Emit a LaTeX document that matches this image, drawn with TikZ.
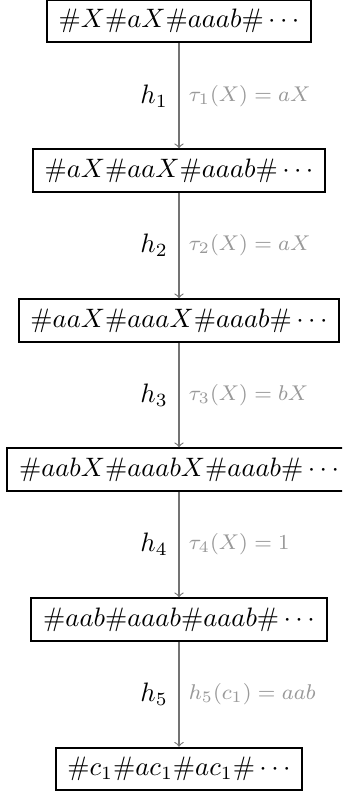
\documentclass[tikz,border=0pt]{standalone}
\begin{document}
\begin{tikzpicture}[x=0.375pt,y=-0.375pt,
  wordbox/.style={draw=black,line width=0.75pt,fill=white,inner xsep=4.4pt,inner ysep=3.5pt},
  stepline/.style={draw=black!55,line width=0.4pt,->},
  hlab/.style={left,inner sep=4pt,font=\normalsize},
  tlab/.style={right,inner sep=3.5pt,text=black!40,font=\footnotesize}]
\useasboundingbox (0,0) rectangle (342,793);
\begin{scope}
\clip (0,0) rectangle (342,793);
\node[wordbox] (w1) at (179,21) {$\#X\#aX\#aaab\#\cdots$};
\node[wordbox] (w2) at (179,170.5) {$\#aX\#aaX\#aaab\#\cdots$};
\node[wordbox] (w3) at (179,320.5) {$\#aaX\#aaaX\#aaab\#\cdots$};
\node[wordbox] (w4) at (179,469.5) {$\#aabX\#aaabX\#aaab\#\cdots$};
\node[wordbox] (w5) at (179,619.5) {$\#aab\#aaab\#aaab\#\cdots$};
\node[wordbox] (w6) at (179,769) {$\#c_1\#ac_1\#ac_1\#\cdots$};
\draw[stepline] (w1) -- node[hlab]{$h_1$} node[tlab]{$\tau_1(X)=aX$} (w2);
\draw[stepline] (w2) -- node[hlab]{$h_2$} node[tlab]{$\tau_2(X)=aX$} (w3);
\draw[stepline] (w3) -- node[hlab]{$h_3$} node[tlab]{$\tau_3(X)=bX$} (w4);
\draw[stepline] (w4) -- node[hlab]{$h_4$} node[tlab]{$\tau_4(X)=1$} (w5);
\draw[stepline] (w5) -- node[hlab]{$h_5$} node[tlab]{$h_5(c_1)=aab$} (w6);
\end{scope}
\end{tikzpicture}
\end{document}
